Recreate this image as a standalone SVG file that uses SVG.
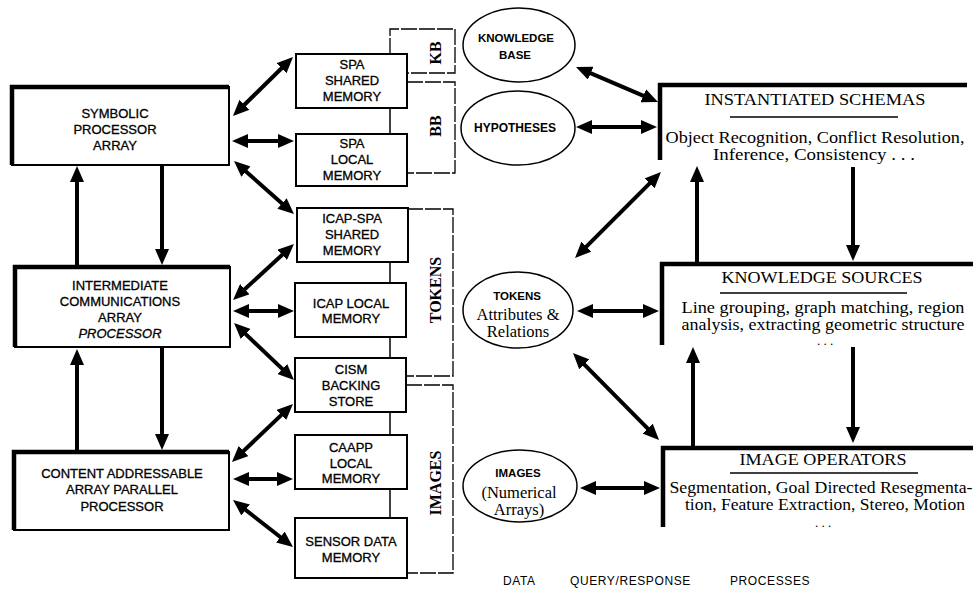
<svg xmlns="http://www.w3.org/2000/svg" width="979" height="589" viewBox="0 0 979 589">
  <style>
    .bg { fill: #ffffff; }
    .box { fill: #ffffff; stroke: #000; stroke-width: 2; }
    .heavy { fill: none; stroke: #000; stroke-width: 4.5; stroke-linejoin: miter; }
    .mem { fill: #ffffff; stroke: #000; stroke-width: 2; }
    .bracket { fill: none; stroke: #000; stroke-width: 1.3; stroke-dasharray: 16 2; }
    .link { fill: none; stroke: #000; stroke-width: 1.5; }
    .oval { fill: #ffffff; stroke: #000; stroke-width: 1.5; }
    .rule { stroke: #000; stroke-width: 1.5; }
    .arrow { fill: none; stroke: #000; stroke-width: 4; }
    .two { marker-start: url(#head); marker-end: url(#head); }
    .one { marker-end: url(#head); }
    .sans { font-family: "Liberation Sans", Arial, sans-serif; font-size: 13px; fill: #000; text-anchor: middle; stroke: #000; stroke-width: 0.3; }
    .sans-i { font-style: italic; }
    .oval-cap { font-family: "Liberation Sans", Arial, sans-serif; font-weight: bold; fill: #000; text-anchor: middle; }
    .side { font-family: "Liberation Serif", "Times New Roman", serif; font-weight: bold; font-size: 16px; fill: #000; text-anchor: middle; dominant-baseline: central; }
    .serif { font-family: "Liberation Serif", "Times New Roman", serif; font-size: 16.5px; fill: #000; text-anchor: middle; }
    .dots { font-family: "Liberation Serif", "Times New Roman", serif; font-size: 13px; fill: #000; text-anchor: middle; }
    .title { font-family: "Liberation Serif", "Times New Roman", serif; font-size: 17px; fill: #000; text-anchor: middle; }
    .legend { font-family: "Liberation Sans", Arial, sans-serif; font-size: 12px; fill: #000; letter-spacing: 0.6px; }
  </style>
  <defs>
    <marker id="head" markerUnits="userSpaceOnUse" viewBox="0 0 16 14" markerWidth="16" markerHeight="14" refX="6" refY="7" orient="auto-start-reverse">
      <path d="M0,0 L16,7 L0,14 Z" fill="#000"/>
    </marker>
  </defs>

  <rect class="bg" x="0" y="0" width="979" height="589"/>

  <!-- processor arrays -->
  <g id="spa">
    <rect class="box" x="12" y="87" width="217" height="78"/>
    <path class="heavy" d="M12,165 V87 H229"/>
    <text class="sans" x="115" y="118">SYMBOLIC</text>
    <text class="sans" x="115" y="134">PROCESSOR</text>
    <text class="sans" x="115" y="150">ARRAY</text>
  </g>
  <g id="icap">
    <rect class="box" x="15" y="267" width="215" height="80"/>
    <path class="heavy" d="M15,347 V267 H230"/>
    <text class="sans" x="120" y="290">INTERMEDIATE</text>
    <text class="sans" x="120" y="306">COMMUNICATIONS</text>
    <text class="sans" x="120" y="322">ARRAY</text>
    <text class="sans sans-i" x="120" y="338">PROCESSOR</text>
  </g>
  <g id="caapp">
    <rect class="box" x="14" y="452" width="215" height="78"/>
    <path class="heavy" d="M14,530 V452 H229"/>
    <text class="sans" x="122" y="478">CONTENT ADDRESSABLE</text>
    <text class="sans" x="122" y="494">ARRAY PARALLEL</text>
    <text class="sans" x="122" y="511">PROCESSOR</text>
  </g>

  <!-- memory groupings -->
  <g id="kb-bracket">
    <path class="bracket" d="M390,54 V29 H455 V73 H407"/>
    <text class="side" x="435" y="53" transform="rotate(-90 435 53)">KB</text>
  </g>
  <g id="bb-bracket">
    <path class="bracket" d="M407,82 H455 V173 H407"/>
    <text class="side" x="435" y="126" transform="rotate(-90 435 126)">BB</text>
  </g>
  <g id="tokens-bracket">
    <path class="bracket" d="M407,209 H453 V376 H406"/>
    <text class="side" x="435" y="290" transform="rotate(-90 435 290)">TOKENS</text>
  </g>
  <g id="images-bracket">
    <path class="bracket" d="M406,385 H453 V573 H407"/>
    <text class="side" x="435" y="483" transform="rotate(-90 435 483)">IMAGES</text>
  </g>

  <!-- memories -->
  <g id="spa-shared">
    <rect class="mem" x="296" y="54" width="111" height="54"/>
    <text class="sans" x="352" y="69">SPA</text>
    <text class="sans" x="352" y="85">SHARED</text>
    <text class="sans" x="352" y="101">MEMORY</text>
  </g>
  <g id="spa-local">
    <rect class="mem" x="296" y="134" width="111" height="52"/>
    <text class="sans" x="352" y="148">SPA</text>
    <text class="sans" x="352" y="164">LOCAL</text>
    <text class="sans" x="352" y="180">MEMORY</text>
  </g>
  <g id="icap-spa-shared">
    <rect class="mem" x="297" y="208" width="111" height="54"/>
    <text class="sans" x="352" y="223">ICAP-SPA</text>
    <text class="sans" x="352" y="239">SHARED</text>
    <text class="sans" x="352" y="255">MEMORY</text>
  </g>
  <g id="icap-local">
    <rect class="mem" x="295" y="283" width="111" height="54"/>
    <text class="sans" x="351" y="308">ICAP LOCAL</text>
    <text class="sans" x="351" y="323">MEMORY</text>
  </g>
  <g id="cism">
    <rect class="mem" x="295" y="358" width="111" height="54"/>
    <text class="sans" x="351" y="374">CISM</text>
    <text class="sans" x="351" y="390">BACKING</text>
    <text class="sans" x="351" y="406">STORE</text>
  </g>
  <g id="caapp-local">
    <rect class="mem" x="295" y="435" width="112" height="54"/>
    <text class="sans" x="351" y="452">CAAPP</text>
    <text class="sans" x="351" y="468">LOCAL</text>
    <text class="sans" x="351" y="483">MEMORY</text>
  </g>
  <g id="sensor-data">
    <rect class="mem" x="295" y="518" width="112" height="60"/>
    <text class="sans" x="351" y="546">SENSOR DATA</text>
    <text class="sans" x="351" y="562">MEMORY</text>
  </g>

  <!-- data stores -->
  <g id="knowledge-base">
    <ellipse class="oval" cx="519" cy="45" rx="56" ry="37"/>
    <text class="oval-cap" x="516" y="42" font-size="11.5">KNOWLEDGE</text>
    <text class="oval-cap" x="515" y="59" font-size="11.5">BASE</text>
  </g>
  <g id="hypotheses">
    <ellipse class="oval" cx="518" cy="128" rx="57" ry="37"/>
    <text class="oval-cap" x="515" y="132" font-size="12">HYPOTHESES</text>
  </g>
  <g id="tokens">
    <ellipse class="oval" cx="518" cy="310" rx="55" ry="38"/>
    <text class="oval-cap" x="517" y="300" font-size="11.5">TOKENS</text>
    <text class="serif" x="518" y="320" font-size="14.5">Attributes &amp;</text>
    <text class="serif" x="518" y="337" font-size="14.5">Relations</text>
  </g>
  <g id="images">
    <ellipse class="oval" cx="520" cy="486" rx="57" ry="36"/>
    <text class="oval-cap" x="518" y="477" font-size="11.5">IMAGES</text>
    <text class="serif" x="519" y="498" font-size="14.5">(Numerical</text>
    <text class="serif" x="519" y="515" font-size="14.5">Arrays)</text>
  </g>

  <!-- processes -->
  <g id="instantiated-schemas">
    <path class="heavy" d="M660,160 V85 H967" stroke-width="5"/>
    <text class="title" x="815" y="105" textLength="221" lengthAdjust="spacingAndGlyphs">INSTANTIATED SCHEMAS</text>
    <line class="rule" x1="730" y1="117" x2="898" y2="117"/>
    <text class="serif" x="815" y="143" textLength="299" lengthAdjust="spacingAndGlyphs">Object Recognition, Conflict Resolution,</text>
    <text class="serif" x="814" y="160" textLength="202" lengthAdjust="spacingAndGlyphs">Inference, Consistency . . .</text>
  </g>
  <g id="knowledge-sources">
    <path class="heavy" d="M662,345 V264 H973" stroke-width="5"/>
    <text class="title" x="822" y="283" textLength="201" lengthAdjust="spacingAndGlyphs">KNOWLEDGE SOURCES</text>
    <line class="rule" x1="720" y1="293" x2="907" y2="293"/>
    <text class="serif" x="823" y="313" textLength="283" lengthAdjust="spacingAndGlyphs">Line grouping, graph matching, region</text>
    <text class="serif" x="823" y="330" textLength="283" lengthAdjust="spacingAndGlyphs">analysis, extracting geometric structure</text>
    <text class="dots" x="825" y="345">. . .</text>
  </g>
  <g id="image-operators">
    <path class="heavy" d="M663,527 V448 H973" stroke-width="5"/>
    <text class="title" x="823" y="465" textLength="167" lengthAdjust="spacingAndGlyphs">IMAGE OPERATORS</text>
    <line class="rule" x1="730" y1="473" x2="918" y2="473"/>
    <text class="serif" x="821" y="493" textLength="303" lengthAdjust="spacingAndGlyphs">Segmentation, Goal Directed Resegmenta-</text>
    <text class="serif" x="825" y="510" textLength="280" lengthAdjust="spacingAndGlyphs">tion, Feature Extraction, Stereo, Motion</text>
    <text class="dots" x="823" y="527">. . .</text>
  </g>

  <!-- legend -->
  <g id="legend">
    <text class="legend" x="503" y="585">DATA</text>
    <text class="legend" x="570" y="585">QUERY/RESPONSE</text>
    <text class="legend" x="730" y="585">PROCESSES</text>
  </g>

  <!-- connectors -->
  <g id="connectors">
    <!-- links between memories -->
    <line class="link" x1="390" y1="108" x2="390" y2="134"/>
    <line class="link" x1="390" y1="262" x2="390" y2="283"/>
    <line class="link" x1="390" y1="337" x2="390" y2="358"/>
    <line class="link" x1="390" y1="412" x2="390" y2="435"/>
    <line class="link" x1="390" y1="489" x2="390" y2="518"/>

    <!-- processor array chain -->
    <line class="arrow one" x1="77" y1="267" x2="77" y2="176"/>
    <line class="arrow one" x1="162" y1="165" x2="162" y2="255"/>
    <line class="arrow one" x1="77" y1="452" x2="77" y2="359"/>
    <line class="arrow one" x1="162" y1="348" x2="162" y2="440"/>

    <!-- processors to memories -->
    <line class="arrow two" x1="240.1" y1="109.0" x2="285.9" y2="64.0"/>
    <line class="arrow two" x1="242" y1="141" x2="284" y2="141"/>
    <line class="arrow two" x1="241.5" y1="167.6" x2="286.5" y2="207.4"/>
    <line class="arrow two" x1="240.4" y1="293.2" x2="286.6" y2="250.8"/>
    <line class="arrow two" x1="243" y1="311" x2="284" y2="311"/>
    <line class="arrow two" x1="241.3" y1="329.9" x2="286.7" y2="373.1"/>
    <line class="arrow two" x1="239.2" y1="455.1" x2="285.7" y2="410.9"/>
    <line class="arrow two" x1="243" y1="479" x2="283" y2="479"/>
    <line class="arrow two" x1="240.9" y1="506.2" x2="285.1" y2="540.8"/>

    <!-- data stores to processes -->
    <line class="arrow two" x1="585.2" y1="70.9" x2="648.8" y2="98.1"/>
    <line class="arrow two" x1="586" y1="127" x2="647" y2="127"/>
    <line class="arrow two" x1="582.1" y1="250.9" x2="653.9" y2="179.1"/>
    <line class="arrow two" x1="587" y1="311" x2="649" y2="311"/>
    <line class="arrow two" x1="580.0" y1="360.1" x2="652.0" y2="432.9"/>
    <line class="arrow two" x1="590" y1="488" x2="650" y2="488"/>

    <!-- process chain -->
    <line class="arrow one" x1="697" y1="262" x2="697" y2="176"/>
    <line class="arrow one" x1="853" y1="167" x2="853" y2="251"/>
    <line class="arrow one" x1="693" y1="446" x2="693" y2="357"/>
    <line class="arrow one" x1="853" y1="347" x2="853" y2="433"/>
  </g>
</svg>
